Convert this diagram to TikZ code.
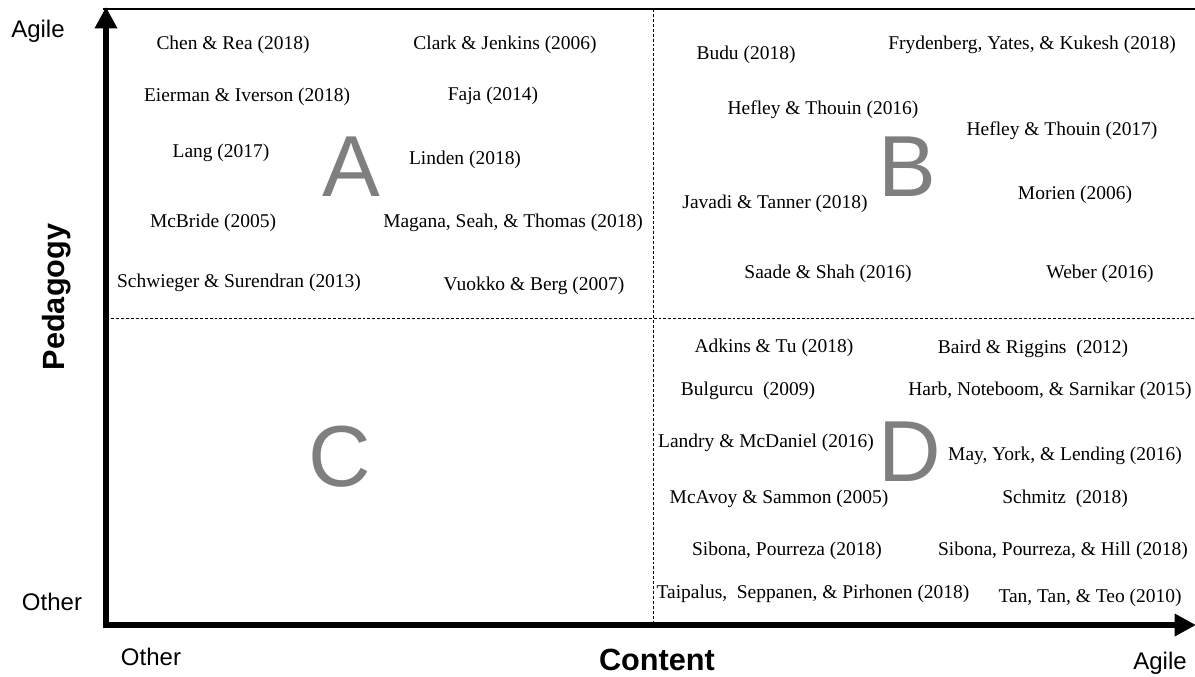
\documentclass[tikz,border=0pt]{standalone}
\usepackage{fontspec}
\setmainfont{Liberation Serif}
\newfontfamily\arialf{Liberation Sans}
\usetikzlibrary{arrows.meta}
\tikzset{
  ref/.style={font=\fontsize{14.6}{16}\selectfont, inner sep=0pt, yshift=-1.5pt},
  axlab/.style={font=\arialf\fontsize{18}{20}\selectfont, inner sep=0pt},
  axtitle/.style={font=\arialf\bfseries\fontsize{23}{26}\selectfont, inner sep=0pt},
  quad/.style={font=\arialf\fontsize{65}{70}\selectfont, text=quadgray, inner sep=0pt},
  axis/.style={line width=4.6pt, -{Triangle[width=16pt,length=16pt]}},
  divider/.style={line width=0.7pt, dash pattern=on 2.2pt off 1.5pt},
}
\definecolor{quadgray}{HTML}{7F7F7F}
\begin{document}
\begin{tikzpicture}[x=0.75pt,y=-0.75pt]
\useasboundingbox (0,0) rectangle (1195,676);
% frame and dividers
\coordinate (tl) at (103,9);
\coordinate (tr) at (1195,9);
\coordinate (mt) at (653,9);
\coordinate (mb) at (653,625);
\coordinate (ml) at (106,318);
\coordinate (mr) at (1195,318);
\coordinate (org) at (106,625);
\coordinate (ytip) at (106,7);
\coordinate (xtip) at (1196,625);
\draw[line width=1.4pt] (tl) -- (tr);
\draw[divider] (mt) -- (mb);
\draw[divider] (ml) -- (mr);
\draw[axis] ([yshift=-2.3pt]org) -- (ytip);
\draw[axis] ([xshift=-2.3pt]org) -- (xtip);
% axis labels
\node[axlab] (yagile) at (38,31) {Agile};
\node[axlab] (yother) at (52,602) {Other};
\node[axlab] (xother) at (151,657) {Other};
\node[axlab] (xagile) at (1160,663) {Agile};
\node[axtitle] (content) at (657,660) {Content};
\node[axtitle, rotate=90] (pedagogy) at (57,297) {Pedagogy};
% quadrant letters
\node[quad] (qa) at (351,167) {A};
\node[quad] (qb) at (907,167) {B};
\node[quad] (qc) at (340,457) {C};
\node[quad] (qd) at (910,452) {D};
% quadrant A
\node[ref] (a1) at (233,43) {Chen \& Rea (2018)};
\node[ref] (a2) at (505,43) {Clark \& Jenkins (2006)};
\node[ref] (a3) at (247,95) {Eierman \& Iverson (2018)};
\node[ref] (a4) at (493,94) {Faja (2014)};
\node[ref] (a5) at (221,151) {Lang (2017)};
\node[ref] (a6) at (465,158) {Linden (2018)};
\node[ref] (a7) at (213,221) {McBride (2005)};
\node[ref] (a8) at (513,221) {Magana, Seah, \& Thomas (2018)};
\node[ref] (a9) at (239,281) {Schwieger \& Surendran (2013)};
\node[ref] (a10) at (534,284) {Vuokko \& Berg (2007)};
% quadrant B
\node[ref] (b1) at (746,53) {Budu (2018)};
\node[ref] (b2) at (1032,43) {Frydenberg, Yates, \& Kukesh (2018)};
\node[ref] (b3) at (823,108) {Hefley \& Thouin (2016)};
\node[ref] (b4) at (1062,129) {Hefley \& Thouin (2017)};
\node[ref] (b5) at (775,202) {Javadi \& Tanner (2018)};
\node[ref] (b6) at (1075,193) {Morien (2006)};
\node[ref] (b7) at (828,272) {Saade \& Shah (2016)};
\node[ref] (b8) at (1100,272) {Weber (2016)};
% quadrant D
\node[ref] (d1) at (774,346) {Adkins \& Tu (2018)};
\node[ref] (d2) at (1033,347) {Baird \& Riggins\ \ (2012)};
\node[ref] (d3) at (748,389) {Bulgurcu\ \ (2009)};
\node[ref] (d4) at (1050,389) {Harb, Noteboom, \& Sarnikar (2015)};
\node[ref] (d5) at (766,441) {Landry \& McDaniel (2016)};
\node[ref] (d6) at (1065,454) {May, York, \& Lending (2016)};
\node[ref] (d7) at (779,497) {McAvoy \& Sammon (2005)};
\node[ref] (d8) at (1065,497) {Schmitz\ \ (2018)};
\node[ref] (d9) at (787,549) {Sibona, Pourreza (2018)};
\node[ref] (d10) at (1063,549) {Sibona, Pourreza, \& Hill (2018)};
\node[ref] (d11) at (813,592) {Taipalus,\ \ Seppanen, \& Pirhonen (2018)};
\node[ref] (d12) at (1090,596) {Tan, Tan, \& Teo (2010)};
\end{tikzpicture}
\end{document}
